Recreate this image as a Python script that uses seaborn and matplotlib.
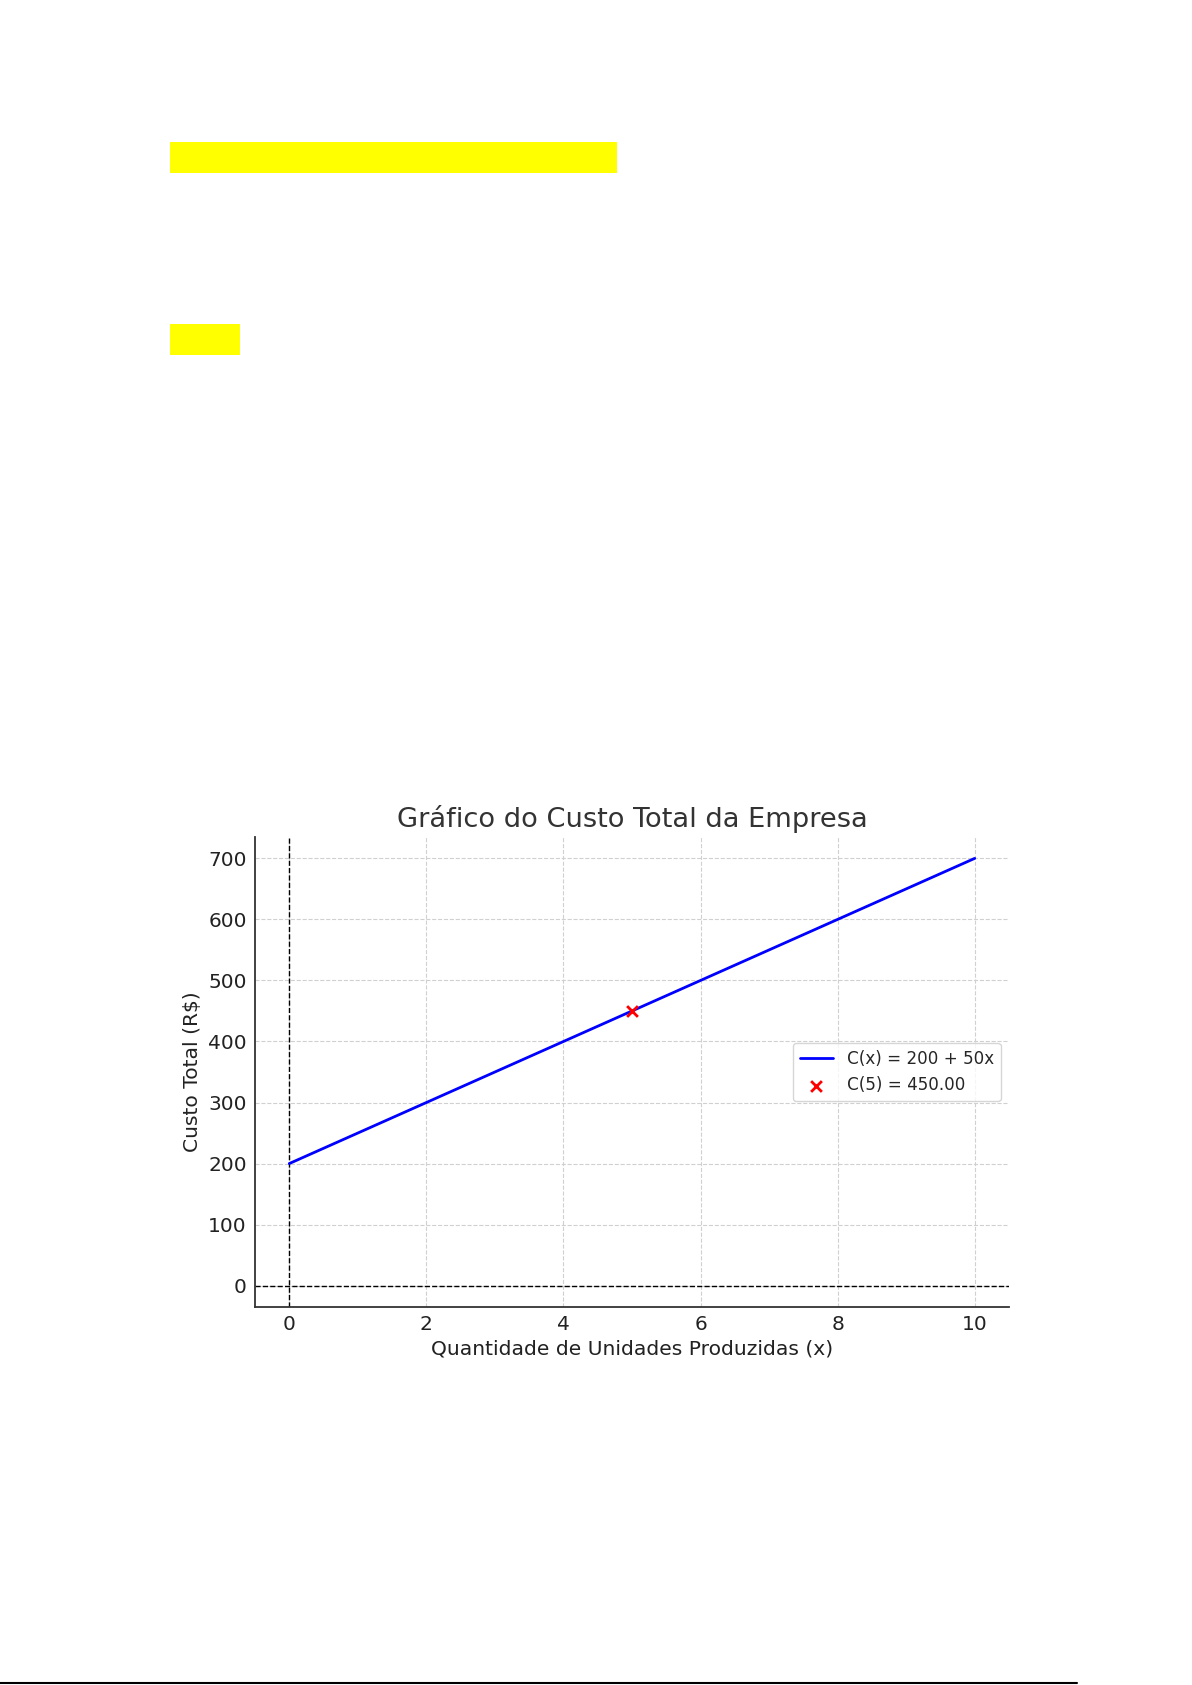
import matplotlib
matplotlib.use('Agg')
import matplotlib.pyplot as plt
import seaborn as sns
import pandas as pd
from matplotlib.lines import Line2D
from matplotlib.patches import Rectangle

# =============================================================================
# Data
# =============================================================================
units = [0, 1, 2, 3, 4, 5, 6, 7, 8, 9, 10]
total_cost = [200, 250, 300, 350, 400, 450, 500, 550, 600, 650, 700]
point_x = [5]
point_y = [450.0]
x_ticks = [0, 2, 4, 6, 8, 10]
y_ticks = [0, 100, 200, 300, 400, 500, 600, 700]

cost_df = pd.DataFrame({'x': units, 'custo': total_cost})
point_df = pd.DataFrame({'x': point_x, 'custo': point_y})

# =============================================================================
# Style
# =============================================================================
sns.set_style('white')
plt.rcParams['font.family'] = ['DejaVu Sans']

W, H = 1192, 1685
fig = plt.figure(figsize=(W / 100, H / 100), dpi=100)
fig.patch.set_facecolor('white')

# highlighted (blank) lines of the page
fig.patches.append(Rectangle((170 / W, 1 - 173 / H), 447 / W, 31 / H,
                             transform=fig.transFigure, facecolor='#ffff00', edgecolor='none'))
fig.patches.append(Rectangle((170 / W, 1 - 355 / H), 70 / W, 31 / H,
                             transform=fig.transFigure, facecolor='#ffff00', edgecolor='none'))
# page bottom rule
fig.lines.append(Line2D([0, 1077 / W], [1 - 1683 / H, 1 - 1683 / H],
                        transform=fig.transFigure, color='black', lw=1.5))

# =============================================================================
# Chart
# =============================================================================
ax = fig.add_axes([255 / W, 1 - 1307 / H, 754 / W, 470 / H])

ax.grid(True, linestyle='--', color='#d0d0d0', linewidth=0.8)
ax.axhline(0, color='black', linestyle='--', linewidth=1)
ax.axvline(0, color='black', linestyle='--', linewidth=1)

sns.lineplot(data=cost_df, x='x', y='custo', ax=ax, color='blue', linewidth=2,
             label='C(x) = 200 + 50x')
sns.scatterplot(data=point_df, x='x', y='custo', ax=ax, color='red', marker='x',
                s=60, linewidth=2, label='C(5) = 450.00', zorder=5)

ax.set_xlim(-0.5, 10.5)
ax.set_ylim(-35, 735)
ax.set_xticks(x_ticks)
ax.set_yticks(y_ticks)

ax.set_title('Gráfico do Custo Total da Empresa', fontsize=19.6, color='#333333', pad=7)
ax.set_xlabel('Quantidade de Unidades Produzidas (x)', fontsize=14.6, color='#222222')
ax.set_ylabel('Custo Total (R$)', fontsize=14.6, color='#222222')
ax.tick_params(axis='both', labelsize=14.5, direction='in', length=6, width=1,
               colors='#222222', pad=6)

for side in ['top', 'right']:
    ax.spines[side].set_visible(False)
for side in ['left', 'bottom']:
    ax.spines[side].set_color('#333333')
    ax.spines[side].set_linewidth(1.3)

leg = ax.legend(loc='center right', fontsize=12.1, frameon=True, fancybox=True)
leg.get_frame().set_edgecolor('#cccccc')

fig.savefig('out.png', dpi=100)
